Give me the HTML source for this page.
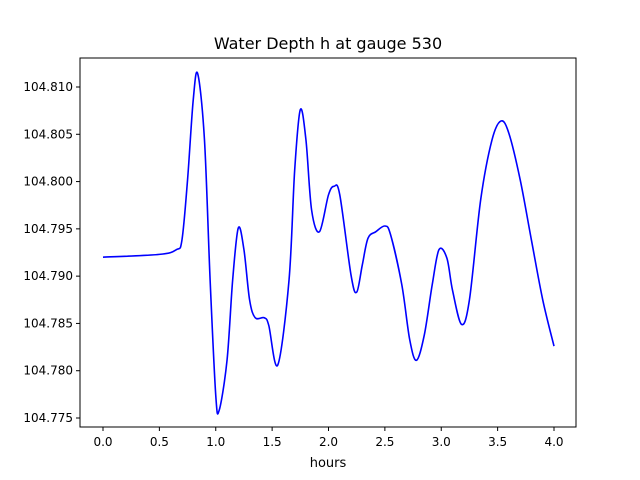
<!DOCTYPE html>
<html><head><meta charset="utf-8"><style>
body{margin:0;background:#fff;}
svg{display:block;font-family:"DejaVu Sans","Liberation Sans",sans-serif;}
</style></head><body>
<svg id="chart" width="640" height="480">
<rect x="0" y="0" width="640" height="480" fill="#fff"/>
<text x="328" y="49" font-size="16" text-anchor="middle">Water Depth h at gauge 530</text>
<g id="ticks"></g>
<path id="line" fill="none" stroke="#0000ff" stroke-width="1.6"/>
<rect x="80" y="58" width="496" height="369" fill="none" stroke="#000" stroke-width="1"/>
<text x="328" y="467" font-size="13" text-anchor="middle">hours</text>
</svg>
<script>
const times=[0,0.5,0.65,0.7,0.75,0.8,0.84,0.9,0.95,1.0,1.03,1.1,1.15,1.2,1.25,1.3,1.35,1.43,1.47,1.55,1.65,1.7,1.75,1.8,1.85,1.92,2.0,2.05,2.1,2.2,2.25,2.3,2.35,2.42,2.5,2.55,2.65,2.72,2.78,2.85,2.92,2.98,3.05,3.1,3.18,3.25,3.35,3.45,3.53,3.6,3.7,3.8,3.9,4.0];
const depths=[104.7920,104.7923,104.7928,104.7938,104.8002,104.8086,104.8114,104.8044,104.7896,104.7774,104.7758,104.7811,104.7896,104.7951,104.7928,104.7875,104.7856,104.7856,104.7848,104.7806,104.7896,104.8012,104.8076,104.8044,104.7970,104.7947,104.7986,104.7995,104.7986,104.7901,104.7883,104.7912,104.7940,104.7947,104.7953,104.7944,104.7891,104.7833,104.7811,104.7838,104.7891,104.7928,104.7919,104.7885,104.7849,104.7875,104.7981,104.8044,104.8064,104.8051,104.8002,104.7938,104.7875,104.7826];
const xTicks=[0,0.5,1,1.5,2,2.5,3,3.5,4];
const yTicks=[104.775,104.780,104.785,104.790,104.795,104.800,104.805,104.810];
const xs=t=>103+(t-0)*(554-103)/4;
const ys=v=>87+(104.810-v)*(331/0.035);
const NS="http://www.w3.org/2000/svg";
const g=document.getElementById('ticks');
function mk(tag,attrs){const e=document.createElementNS(NS,tag);for(const k in attrs)e.setAttribute(k,attrs[k]);return e;}
xTicks.forEach(t=>{
  const l=mk('line',{x1:xs(t),x2:xs(t),y1:427,y2:431,stroke:'#000'});
  
  
  g.appendChild(l);
  const tx=mk('text',{x:xs(t),y:446,'font-size':12,'text-anchor':'middle'});
  
  
  tx.textContent=t.toFixed(1);g.appendChild(tx);
});
yTicks.forEach(v=>{
  const l=mk('line',{x1:76,x2:80,y1:ys(v),y2:ys(v),stroke:'#000'});
  
  
  g.appendChild(l);
  const tx=mk('text',{x:73,y:ys(v)+4,'font-size':12,'text-anchor':'end'});
  
  
  tx.textContent=v.toFixed(3);g.appendChild(tx);
});
const P=times.map((t,i)=>[xs(t),ys(depths[i])]);
let d='M'+P[0][0]+','+P[0][1];
for(let i=0;i<P.length-1;i++){
  const p0=P[i-1]||P[i],p1=P[i],p2=P[i+1],p3=P[i+2]||P[i+1];
  const c1=[p1[0]+(p2[0]-p0[0])/6,p1[1]+(p2[1]-p0[1])/6];
  const c2=[p2[0]-(p3[0]-p1[0])/6,p2[1]-(p3[1]-p1[1])/6];
  d+=`C${c1[0]},${c1[1]} ${c2[0]},${c2[1]} ${p2[0]},${p2[1]}`;
}
document.getElementById('line').setAttribute('d',d);
</script>
</body></html>
